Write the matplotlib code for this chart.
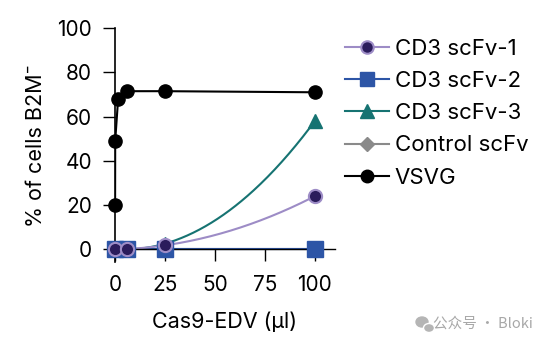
import numpy as np
import matplotlib
matplotlib.use("Agg")
import matplotlib.pyplot as plt
from matplotlib.lines import Line2D
from matplotlib.patches import Ellipse

plt.rcParams['font.family'] = ['Inter', 'DejaVu Sans']

dose = [0.1, 6.25, 25, 100]
cd3_1 = [0.0, 0.0, 1.8, 24.0]
cd3_2 = [0.0, 0.0, 0.0, 0.0]
cd3_3 = [0.0, 0.0, 2.5, 58.0]
ctrl = [0.0, 0.0, 0.0, 0.0]
vsvg_dose = [0.05, 0.1, 1.56, 6.25, 25, 100]
vsvg = [20.0, 49.0, 68.0, 71.5, 71.5, 71.0]

xticks = [0, 25, 50, 75, 100]
yticks = [0, 20, 40, 60, 80, 100]

fig = plt.figure(figsize=(5.51, 3.48), dpi=100)
ax = fig.add_axes([0.2087, 0.247, 0.399, 0.672])

xs = np.linspace(0, 100, 200)

def fitcurve(x, y):
    c = np.polyfit(x, y, 2)
    return np.clip(np.polyval(c, xs), 0, None)

c_purple_line = '#9d8cc6'
c_purple_face = '#2b1c5c'
c_blue = '#2d55a6'
c_teal = '#167372'
c_gray = '#8a8a8a'

# fitted curves
ax.plot(xs, fitcurve(dose, ctrl), color=c_gray, lw=1.5, zorder=2)
ax.plot(xs, fitcurve(dose, cd3_3), color=c_teal, lw=1.5, zorder=2)
ax.plot(xs, fitcurve(dose, cd3_2), color=c_blue, lw=1.5, zorder=2)
ax.plot(xs, fitcurve(dose, cd3_1), color=c_purple_line, lw=1.5, zorder=2)
ax.plot(vsvg_dose, vsvg, color='black', lw=1.5, zorder=2)

# markers
ax.plot(dose, ctrl, ls='none', marker='D', ms=8, color=c_gray, zorder=3, clip_on=False)
ax.plot(dose, cd3_3, ls='none', marker='^', ms=10, color=c_teal, zorder=3, clip_on=False)
ax.plot(dose, cd3_2, ls='none', marker='s', ms=11, color=c_blue, zorder=4, clip_on=False)
ax.plot(dose, cd3_1, ls='none', marker='o', ms=9.5, mfc=c_purple_face, mec=c_purple_line,
        mew=1.5, zorder=5, clip_on=False)
ax.plot(vsvg_dose, vsvg, ls='none', marker='o', ms=9.5, color='black', zorder=6, clip_on=False)

handles = [
    Line2D([], [], color=c_purple_line, lw=1.5, marker='o', ms=9, mfc=c_purple_face, mec=c_purple_line, mew=1.5),
    Line2D([], [], color=c_blue, lw=1.5, marker='s', ms=10, mfc=c_blue, mec=c_blue),
    Line2D([], [], color=c_teal, lw=1.5, marker='^', ms=10, mfc=c_teal, mec=c_teal),
    Line2D([], [], color=c_gray, lw=1.5, marker='D', ms=7, mfc=c_gray, mec=c_gray),
    Line2D([], [], color='black', lw=1.5, marker='o', ms=9, mfc='black', mec='black'),
]
labels = ['CD3 scFv-1', 'CD3 scFv-2', 'CD3 scFv-3', 'Control scFv', 'VSVG']
fig.legend(handles, labels, loc='upper left', bbox_to_anchor=(0.589, 0.946), frameon=False,
           fontsize=16, handlelength=2.0, handletextpad=0.25, labelspacing=0.55)

ax.set_xlim(0, 110)
ax.set_ylim(-5.8, 100)
ax.spines['top'].set_visible(False)
ax.spines['right'].set_visible(False)
ax.spines['bottom'].set_position(('data', 0))
ax.spines['bottom'].set_linewidth(1.0)
ax.spines['left'].set_linewidth(1.2)
ax.set_xticks(xticks)
ax.set_yticks(yticks)
ax.tick_params(axis='both', direction='out', length=8.5, width=1.0, labelsize=15)
ax.tick_params(axis='y', pad=8)
ax.tick_params(axis='x', pad=10)
ax.set_xlabel('Cas9-EDV (µl)', fontsize=15.5, labelpad=12)
ax.set_ylabel('% of cells B2M\u207b', fontsize=15.5, labelpad=8)

# watermark
fig.patches.append(Ellipse((422 / 551, 1 - 322 / 348), 12 / 551, 10 / 348,
                           transform=fig.transFigure, color='#b5b5b5', zorder=1))
fig.patches.append(Ellipse((429 / 551, 1 - 328 / 348), 11 / 551, 9 / 348,
                           transform=fig.transFigure, color='#b5b5b5', ec='white', lw=1, zorder=2))
fig.text(0.968, 1 - 324 / 348, '公众号 · Bloki', ha='right', va='center', fontsize=10.5,
         color='#a8a8a8', family=['Noto Sans CJK SC', 'DejaVu Sans'])

fig.savefig('out.png', dpi=100)
